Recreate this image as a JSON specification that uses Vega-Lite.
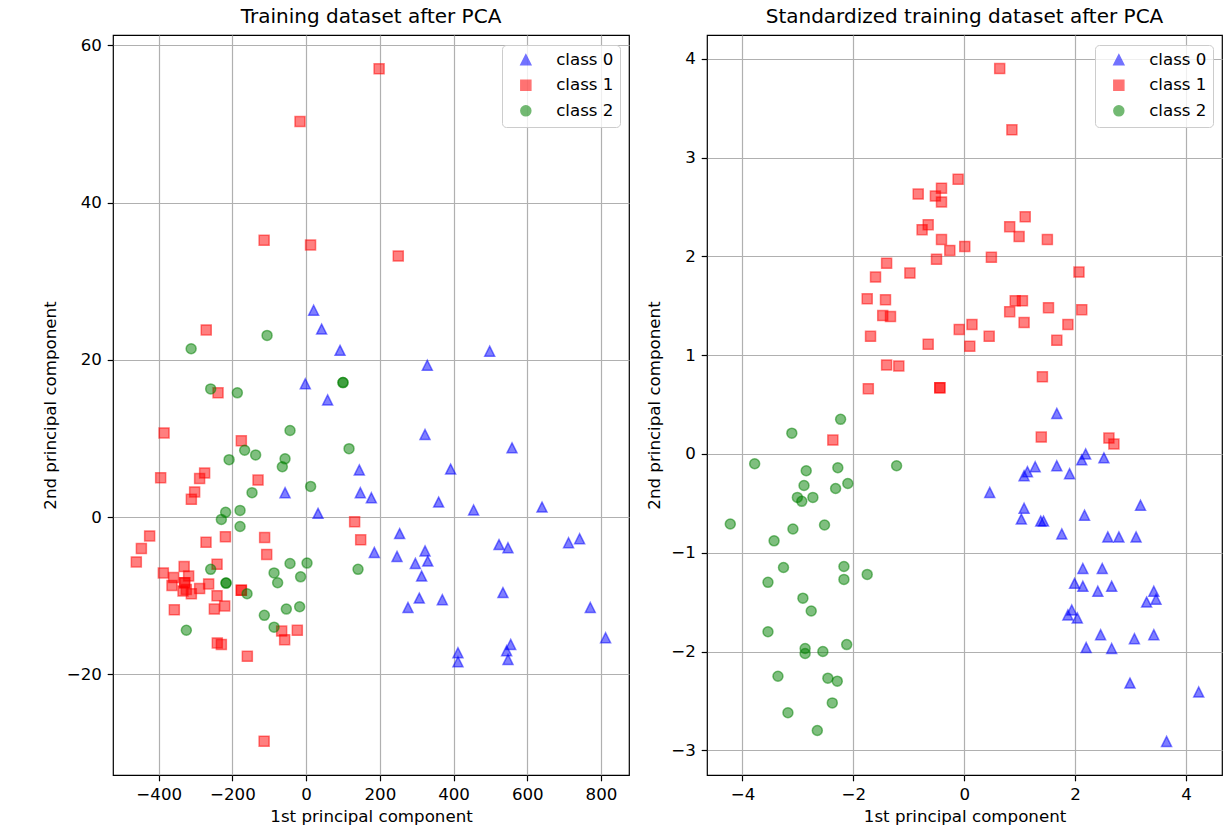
{
  "$schema": "https://vega.github.io/schema/vega-lite/v6.json",
  "background": "white",
  "padding": {"left": 41, "top": 6, "right": 0, "bottom": 3},
  "config": {
    "font": "DejaVu Sans",
    "view": {"stroke": "black", "strokeWidth": 1.2},
    "axis": {"domain": false, "grid": true, "gridColor": "#b0b0b0", "gridWidth": 1.2, "tickColor": "black", "tickSize": 5.8, "tickWidth": 1.2, "labelFontSize": 16.67, "labelColor": "black", "labelPadding": 5.8, "titleFontSize": 16.67, "titleFontWeight": "normal", "titleColor": "black", "labelFont": "DejaVu Sans", "titleFont": "DejaVu Sans"},
    "axisX": {"titlePadding": 5},
    "axisY": {"titlePadding": 7},
    "title": {"fontSize": 20, "fontWeight": "normal", "font": "DejaVu Sans", "color": "black", "offset": 8, "frame": "group"},
    "legend": {"orient": "top-right", "offset": 9.5, "padding": 6.5, "strokeColor": "#cccccc", "cornerRadius": 4, "fillColor": "rgba(255,255,255,0.8)", "labelFontSize": 16.67, "labelFont": "DejaVu Sans", "labelColor": "black", "rowPadding": 7.5, "symbolOffset": 9, "labelOffset": 22, "symbolSize": 100, "symbolOpacity": 0.55, "symbolStrokeWidth": 1.5},
    "concat": {"spacing": 16}
  },
  "datasets": {
    "raw": [
      {"pc1": 20.4, "pc2": 26.3, "cls": "class 0"}, {"pc1": 42, "pc2": 23.9, "cls": "class 0"}, {"pc1": 92, "pc2": 21.2, "cls": "class 0"}, {"pc1": 328.8, "pc2": 19.3, "cls": "class 0"}, {"pc1": -2.2, "pc2": 16.95, "cls": "class 0"}, {"pc1": 58.3, "pc2": 14.9, "cls": "class 0"}, {"pc1": 322.6, "pc2": 10.5, "cls": "class 0"}, {"pc1": 144.3, "pc2": 6.0, "cls": "class 0"}, {"pc1": 392, "pc2": 6.1, "cls": "class 0"}, {"pc1": -57.2, "pc2": 3.1, "cls": "class 0"},
      {"pc1": 147, "pc2": 3.1, "cls": "class 0"}, {"pc1": 177, "pc2": 2.45, "cls": "class 0"}, {"pc1": 359.5, "pc2": 1.9, "cls": "class 0"}, {"pc1": 454.4, "pc2": 0.9, "cls": "class 0"}, {"pc1": 32.3, "pc2": 0.47, "cls": "class 0"}, {"pc1": 253.7, "pc2": -2.1, "cls": "class 0"}, {"pc1": 185, "pc2": -4.5, "cls": "class 0"}, {"pc1": 246.6, "pc2": -5.0, "cls": "class 0"}, {"pc1": 322.6, "pc2": -4.3, "cls": "class 0"}, {"pc1": 296.3, "pc2": -5.9, "cls": "class 0"},
      {"pc1": 330, "pc2": -5.6, "cls": "class 0"}, {"pc1": 313.4, "pc2": -7.5, "cls": "class 0"}, {"pc1": 558.6, "pc2": 8.8, "cls": "class 0"}, {"pc1": 640, "pc2": 1.27, "cls": "class 0"}, {"pc1": 523.3, "pc2": -3.5, "cls": "class 0"}, {"pc1": 547.7, "pc2": -3.9, "cls": "class 0"}, {"pc1": 712, "pc2": -3.27, "cls": "class 0"}, {"pc1": 742, "pc2": -2.76, "cls": "class 0"}, {"pc1": 307, "pc2": -10.3, "cls": "class 0"}, {"pc1": 276.4, "pc2": -11.5, "cls": "class 0"},
      {"pc1": 369.5, "pc2": -10.5, "cls": "class 0"}, {"pc1": 534, "pc2": -9.6, "cls": "class 0"}, {"pc1": 771, "pc2": -11.5, "cls": "class 0"}, {"pc1": 812.5, "pc2": -15.35, "cls": "class 0"}, {"pc1": 412, "pc2": -17.25, "cls": "class 0"}, {"pc1": 412, "pc2": -18.4, "cls": "class 0"}, {"pc1": 555, "pc2": -16.2, "cls": "class 0"}, {"pc1": 544, "pc2": -17.0, "cls": "class 0"}, {"pc1": 547.7, "pc2": -18.1, "cls": "class 0"}, {"pc1": 498, "pc2": 21.1, "cls": "class 0"},
      {"pc1": 198, "pc2": 57, "cls": "class 1"}, {"pc1": -16.6, "pc2": 50.3, "cls": "class 1"}, {"pc1": -114, "pc2": 35.2, "cls": "class 1"}, {"pc1": 12, "pc2": 34.6, "cls": "class 1"}, {"pc1": 250, "pc2": 33.2, "cls": "class 1"}, {"pc1": -271, "pc2": 23.8, "cls": "class 1"}, {"pc1": -239, "pc2": 15.8, "cls": "class 1"}, {"pc1": -385.5, "pc2": 10.7, "cls": "class 1"}, {"pc1": -175.8, "pc2": 9.7, "cls": "class 1"}, {"pc1": -394.7, "pc2": 5.0, "cls": "class 1"},
      {"pc1": -275.4, "pc2": 5.6, "cls": "class 1"}, {"pc1": -289, "pc2": 4.9, "cls": "class 1"}, {"pc1": -130.5, "pc2": 4.7, "cls": "class 1"}, {"pc1": -302.5, "pc2": 3.2, "cls": "class 1"}, {"pc1": -311.4, "pc2": 2.25, "cls": "class 1"}, {"pc1": -424.6, "pc2": -2.4, "cls": "class 1"}, {"pc1": -447, "pc2": -4.0, "cls": "class 1"}, {"pc1": -460.7, "pc2": -5.7, "cls": "class 1"}, {"pc1": -271.6, "pc2": -3.2, "cls": "class 1"}, {"pc1": -219, "pc2": -2.5, "cls": "class 1"},
      {"pc1": -112.6, "pc2": -2.6, "cls": "class 1"}, {"pc1": -107, "pc2": -4.75, "cls": "class 1"}, {"pc1": -387.4, "pc2": -7.1, "cls": "class 1"}, {"pc1": -331, "pc2": -6.3, "cls": "class 1"}, {"pc1": -359.5, "pc2": -7.7, "cls": "class 1"}, {"pc1": -318.8, "pc2": -7.5, "cls": "class 1"}, {"pc1": -364, "pc2": -8.7, "cls": "class 1"}, {"pc1": -329.6, "pc2": -8.35, "cls": "class 1"}, {"pc1": -329.6, "pc2": -8.35, "cls": "class 1"}, {"pc1": -325, "pc2": -9.2, "cls": "class 1"},
      {"pc1": -334, "pc2": -9.4, "cls": "class 1"}, {"pc1": -311.4, "pc2": -9.75, "cls": "class 1"}, {"pc1": -289, "pc2": -9.1, "cls": "class 1"}, {"pc1": -264.5, "pc2": -8.5, "cls": "class 1"}, {"pc1": -241.7, "pc2": -6.0, "cls": "class 1"}, {"pc1": -241.7, "pc2": -10.0, "cls": "class 1"}, {"pc1": -221, "pc2": -11.3, "cls": "class 1"}, {"pc1": -249, "pc2": -11.7, "cls": "class 1"}, {"pc1": -357.6, "pc2": -11.8, "cls": "class 1"}, {"pc1": -175.8, "pc2": -9.3, "cls": "class 1"},
      {"pc1": -175.8, "pc2": -9.3, "cls": "class 1"}, {"pc1": -241, "pc2": -16.0, "cls": "class 1"}, {"pc1": -230, "pc2": -16.2, "cls": "class 1"}, {"pc1": -159.5, "pc2": -17.7, "cls": "class 1"}, {"pc1": -66.4, "pc2": -14.5, "cls": "class 1"}, {"pc1": -58.3, "pc2": -15.6, "cls": "class 1"}, {"pc1": -23.9, "pc2": -14.4, "cls": "class 1"}, {"pc1": -114, "pc2": -28.5, "cls": "class 1"}, {"pc1": 131.6, "pc2": -0.6, "cls": "class 1"}, {"pc1": 148, "pc2": -2.9, "cls": "class 1"},
      {"pc1": -259, "pc2": 16.3, "cls": "class 2"}, {"pc1": -186.6, "pc2": 15.8, "cls": "class 2"}, {"pc1": -43.7, "pc2": 11.0, "cls": "class 2"}, {"pc1": -166.8, "pc2": 8.5, "cls": "class 2"}, {"pc1": -137, "pc2": 7.9, "cls": "class 2"}, {"pc1": -209, "pc2": 7.3, "cls": "class 2"}, {"pc1": -57.2, "pc2": 7.4, "cls": "class 2"}, {"pc1": -64.6, "pc2": 6.4, "cls": "class 2"}, {"pc1": 12.2, "pc2": 3.9, "cls": "class 2"}, {"pc1": -146.8, "pc2": 3.1, "cls": "class 2"},
      {"pc1": -218.4, "pc2": 0.6, "cls": "class 2"}, {"pc1": -179.3, "pc2": 0.85, "cls": "class 2"}, {"pc1": -230, "pc2": -0.3, "cls": "class 2"}, {"pc1": -179.3, "pc2": -1.2, "cls": "class 2"}, {"pc1": -259, "pc2": -6.65, "cls": "class 2"}, {"pc1": -217.3, "pc2": -8.4, "cls": "class 2"}, {"pc1": -217.3, "pc2": -8.4, "cls": "class 2"}, {"pc1": -160.3, "pc2": -9.75, "cls": "class 2"}, {"pc1": -87, "pc2": -7.1, "cls": "class 2"}, {"pc1": -43.7, "pc2": -5.9, "cls": "class 2"},
      {"pc1": 2.4, "pc2": -5.85, "cls": "class 2"}, {"pc1": -77.3, "pc2": -8.35, "cls": "class 2"}, {"pc1": -15, "pc2": -7.6, "cls": "class 2"}, {"pc1": -53.7, "pc2": -11.7, "cls": "class 2"}, {"pc1": -17.6, "pc2": -11.4, "cls": "class 2"}, {"pc1": -113.4, "pc2": -12.5, "cls": "class 2"}, {"pc1": -87, "pc2": -14.0, "cls": "class 2"}, {"pc1": -325, "pc2": -14.4, "cls": "class 2"}, {"pc1": -312, "pc2": 21.4, "cls": "class 2"}, {"pc1": -106, "pc2": 23.1, "cls": "class 2"},
      {"pc1": 100, "pc2": 17.1, "cls": "class 2"}, {"pc1": 100, "pc2": 17.1, "cls": "class 2"}, {"pc1": 116.4, "pc2": 8.7, "cls": "class 2"}, {"pc1": 140.8, "pc2": -6.65, "cls": "class 2"}
    ],
    "std": [
      {"pc1": 1.67, "pc2": 0.41, "cls": "class 0"}, {"pc1": 2.19, "pc2": 0.0, "cls": "class 0"}, {"pc1": 2.12, "pc2": -0.06, "cls": "class 0"}, {"pc1": 2.52, "pc2": -0.04, "cls": "class 0"}, {"pc1": 1.28, "pc2": -0.13, "cls": "class 0"}, {"pc1": 1.67, "pc2": -0.12, "cls": "class 0"}, {"pc1": 1.14, "pc2": -0.18, "cls": "class 0"}, {"pc1": 1.08, "pc2": -0.22, "cls": "class 0"}, {"pc1": 1.90, "pc2": -0.20, "cls": "class 0"}, {"pc1": 0.46, "pc2": -0.39, "cls": "class 0"},
      {"pc1": 3.18, "pc2": -0.52, "cls": "class 0"}, {"pc1": 1.08, "pc2": -0.55, "cls": "class 0"}, {"pc1": 1.03, "pc2": -0.66, "cls": "class 0"}, {"pc1": 2.17, "pc2": -0.62, "cls": "class 0"}, {"pc1": 1.38, "pc2": -0.68, "cls": "class 0"}, {"pc1": 1.43, "pc2": -0.68, "cls": "class 0"}, {"pc1": 1.76, "pc2": -0.81, "cls": "class 0"}, {"pc1": 2.59, "pc2": -0.84, "cls": "class 0"}, {"pc1": 2.79, "pc2": -0.84, "cls": "class 0"}, {"pc1": 3.10, "pc2": -0.84, "cls": "class 0"},
      {"pc1": 2.14, "pc2": -1.16, "cls": "class 0"}, {"pc1": 2.49, "pc2": -1.16, "cls": "class 0"}, {"pc1": 1.99, "pc2": -1.31, "cls": "class 0"}, {"pc1": 2.14, "pc2": -1.34, "cls": "class 0"}, {"pc1": 2.66, "pc2": -1.34, "cls": "class 0"}, {"pc1": 2.41, "pc2": -1.39, "cls": "class 0"}, {"pc1": 3.42, "pc2": -1.39, "cls": "class 0"}, {"pc1": 3.46, "pc2": -1.47, "cls": "class 0"}, {"pc1": 3.29, "pc2": -1.50, "cls": "class 0"}, {"pc1": 1.94, "pc2": -1.58, "cls": "class 0"},
      {"pc1": 1.87, "pc2": -1.63, "cls": "class 0"}, {"pc1": 2.04, "pc2": -1.66, "cls": "class 0"}, {"pc1": 2.46, "pc2": -1.83, "cls": "class 0"}, {"pc1": 3.07, "pc2": -1.87, "cls": "class 0"}, {"pc1": 3.42, "pc2": -1.83, "cls": "class 0"}, {"pc1": 2.20, "pc2": -1.96, "cls": "class 0"}, {"pc1": 2.66, "pc2": -1.97, "cls": "class 0"}, {"pc1": 2.99, "pc2": -2.32, "cls": "class 0"}, {"pc1": 4.23, "pc2": -2.41, "cls": "class 0"}, {"pc1": 3.65, "pc2": -2.91, "cls": "class 0"},
      {"pc1": 0.64, "pc2": 3.90, "cls": "class 1"}, {"pc1": 0.86, "pc2": 3.28, "cls": "class 1"}, {"pc1": -0.11, "pc2": 2.78, "cls": "class 1"}, {"pc1": -0.41, "pc2": 2.69, "cls": "class 1"}, {"pc1": -0.83, "pc2": 2.63, "cls": "class 1"}, {"pc1": -0.52, "pc2": 2.61, "cls": "class 1"}, {"pc1": -0.41, "pc2": 2.55, "cls": "class 1"}, {"pc1": -0.65, "pc2": 2.32, "cls": "class 1"}, {"pc1": -0.76, "pc2": 2.27, "cls": "class 1"}, {"pc1": 1.10, "pc2": 2.40, "cls": "class 1"},
      {"pc1": 0.82, "pc2": 2.30, "cls": "class 1"}, {"pc1": 0.99, "pc2": 2.20, "cls": "class 1"}, {"pc1": 1.50, "pc2": 2.17, "cls": "class 1"}, {"pc1": -0.41, "pc2": 2.17, "cls": "class 1"}, {"pc1": -0.26, "pc2": 2.06, "cls": "class 1"}, {"pc1": 0.01, "pc2": 2.10, "cls": "class 1"}, {"pc1": -0.50, "pc2": 1.97, "cls": "class 1"}, {"pc1": 0.49, "pc2": 1.99, "cls": "class 1"}, {"pc1": -1.40, "pc2": 1.93, "cls": "class 1"}, {"pc1": -0.98, "pc2": 1.83, "cls": "class 1"},
      {"pc1": -1.60, "pc2": 1.79, "cls": "class 1"}, {"pc1": 2.07, "pc2": 1.84, "cls": "class 1"}, {"pc1": -1.75, "pc2": 1.57, "cls": "class 1"}, {"pc1": -1.42, "pc2": 1.56, "cls": "class 1"}, {"pc1": -1.47, "pc2": 1.40, "cls": "class 1"}, {"pc1": -1.33, "pc2": 1.39, "cls": "class 1"}, {"pc1": 0.92, "pc2": 1.55, "cls": "class 1"}, {"pc1": 1.05, "pc2": 1.55, "cls": "class 1"}, {"pc1": 0.82, "pc2": 1.44, "cls": "class 1"}, {"pc1": 1.08, "pc2": 1.33, "cls": "class 1"},
      {"pc1": 1.52, "pc2": 1.48, "cls": "class 1"}, {"pc1": 2.12, "pc2": 1.46, "cls": "class 1"}, {"pc1": 1.87, "pc2": 1.31, "cls": "class 1"}, {"pc1": 1.67, "pc2": 1.15, "cls": "class 1"}, {"pc1": -1.69, "pc2": 1.19, "cls": "class 1"}, {"pc1": -0.65, "pc2": 1.11, "cls": "class 1"}, {"pc1": -0.09, "pc2": 1.26, "cls": "class 1"}, {"pc1": 0.14, "pc2": 1.31, "cls": "class 1"}, {"pc1": 0.45, "pc2": 1.19, "cls": "class 1"}, {"pc1": 0.10, "pc2": 1.09, "cls": "class 1"},
      {"pc1": -1.40, "pc2": 0.90, "cls": "class 1"}, {"pc1": -1.18, "pc2": 0.89, "cls": "class 1"}, {"pc1": -1.73, "pc2": 0.66, "cls": "class 1"}, {"pc1": -0.44, "pc2": 0.67, "cls": "class 1"}, {"pc1": -0.44, "pc2": 0.67, "cls": "class 1"}, {"pc1": 1.41, "pc2": 0.78, "cls": "class 1"}, {"pc1": 1.39, "pc2": 0.17, "cls": "class 1"}, {"pc1": -2.37, "pc2": 0.14, "cls": "class 1"}, {"pc1": 2.61, "pc2": 0.16, "cls": "class 1"}, {"pc1": 2.70, "pc2": 0.10, "cls": "class 1"},
      {"pc1": -2.23, "pc2": 0.35, "cls": "class 2"}, {"pc1": -3.11, "pc2": 0.21, "cls": "class 2"}, {"pc1": -3.78, "pc2": -0.10, "cls": "class 2"}, {"pc1": -2.85, "pc2": -0.17, "cls": "class 2"}, {"pc1": -2.28, "pc2": -0.14, "cls": "class 2"}, {"pc1": -1.22, "pc2": -0.12, "cls": "class 2"}, {"pc1": -2.10, "pc2": -0.30, "cls": "class 2"}, {"pc1": -2.89, "pc2": -0.32, "cls": "class 2"}, {"pc1": -2.32, "pc2": -0.35, "cls": "class 2"}, {"pc1": -3.01, "pc2": -0.44, "cls": "class 2"},
      {"pc1": -2.93, "pc2": -0.48, "cls": "class 2"}, {"pc1": -2.73, "pc2": -0.44, "cls": "class 2"}, {"pc1": -4.22, "pc2": -0.71, "cls": "class 2"}, {"pc1": -2.52, "pc2": -0.72, "cls": "class 2"}, {"pc1": -3.09, "pc2": -0.76, "cls": "class 2"}, {"pc1": -3.43, "pc2": -0.88, "cls": "class 2"}, {"pc1": -3.26, "pc2": -1.15, "cls": "class 2"}, {"pc1": -2.17, "pc2": -1.14, "cls": "class 2"}, {"pc1": -2.17, "pc2": -1.27, "cls": "class 2"}, {"pc1": -1.75, "pc2": -1.22, "cls": "class 2"},
      {"pc1": -3.54, "pc2": -1.30, "cls": "class 2"}, {"pc1": -2.91, "pc2": -1.46, "cls": "class 2"}, {"pc1": -2.76, "pc2": -1.59, "cls": "class 2"}, {"pc1": -3.54, "pc2": -1.80, "cls": "class 2"}, {"pc1": -2.12, "pc2": -1.93, "cls": "class 2"}, {"pc1": -2.87, "pc2": -1.97, "cls": "class 2"}, {"pc1": -2.87, "pc2": -2.02, "cls": "class 2"}, {"pc1": -2.55, "pc2": -2.00, "cls": "class 2"}, {"pc1": -3.36, "pc2": -2.25, "cls": "class 2"}, {"pc1": -2.46, "pc2": -2.27, "cls": "class 2"},
      {"pc1": -2.29, "pc2": -2.30, "cls": "class 2"}, {"pc1": -2.38, "pc2": -2.52, "cls": "class 2"}, {"pc1": -3.18, "pc2": -2.62, "cls": "class 2"}, {"pc1": -2.65, "pc2": -2.80, "cls": "class 2"}
    ]
  },
  "hconcat": [
    {
      "title": "Training dataset after PCA",
      "width": 516,
      "height": 740,
      "data": {"name": "raw"},
      "mark": {"type": "point", "filled": true, "size": 100, "fillOpacity": 0.5, "strokeOpacity": 0.5, "strokeWidth": 1.5},
      "encoding": {
        "x": {"field": "pc1", "type": "quantitative", "scale": {"domain": [-524, 876], "nice": false, "zero": false}, "axis": {"values": [-400, -200, 0, 200, 400, 600, 800], "title": "1st principal component"}},
        "y": {"field": "pc2", "type": "quantitative", "scale": {"domain": [-32.8, 61.3], "nice": false, "zero": false}, "axis": {"values": [-20, 0, 20, 40, 60], "title": "2nd principal component"}},
        "color": {"field": "cls", "type": "nominal", "scale": {"domain": ["class 0", "class 1", "class 2"], "range": ["#0000ff", "#ff0000", "#008000"]}, "legend": {"title": null}},
        "stroke": {"field": "cls", "type": "nominal", "scale": {"domain": ["class 0", "class 1", "class 2"], "range": ["#0000ff", "#ff0000", "#008000"]}, "legend": {"title": null}},
        "shape": {"field": "cls", "type": "nominal", "scale": {"domain": ["class 0", "class 1", "class 2"], "range": ["M0,-1L1,1L-1,1Z", "square", "circle"]}, "legend": {"title": null}}
      }
    },
    {
      "title": "Standardized training dataset after PCA",
      "width": 515,
      "height": 740,
      "data": {"name": "std"},
      "mark": {"type": "point", "filled": true, "size": 100, "fillOpacity": 0.5, "strokeOpacity": 0.5, "strokeWidth": 1.5},
      "encoding": {
        "x": {"field": "pc1", "type": "quantitative", "scale": {"domain": [-4.64, 4.65], "nice": false, "zero": false}, "axis": {"values": [-4, -2, 0, 2, 4], "title": "1st principal component"}},
        "y": {"field": "pc2", "type": "quantitative", "scale": {"domain": [-3.25, 4.24], "nice": false, "zero": false}, "axis": {"values": [-3, -2, -1, 0, 1, 2, 3, 4], "title": "2nd principal component"}},
        "color": {"field": "cls", "type": "nominal", "scale": {"domain": ["class 0", "class 1", "class 2"], "range": ["#0000ff", "#ff0000", "#008000"]}, "legend": {"title": null}},
        "stroke": {"field": "cls", "type": "nominal", "scale": {"domain": ["class 0", "class 1", "class 2"], "range": ["#0000ff", "#ff0000", "#008000"]}, "legend": {"title": null}},
        "shape": {"field": "cls", "type": "nominal", "scale": {"domain": ["class 0", "class 1", "class 2"], "range": ["M0,-1L1,1L-1,1Z", "square", "circle"]}, "legend": {"title": null}}
      }
    }
  ],
  "resolve": {
    "scale": {"x": "independent", "y": "independent", "color": "independent", "stroke": "independent", "shape": "independent"},
    "legend": {"color": "independent", "stroke": "independent", "shape": "independent"}
  }
}
